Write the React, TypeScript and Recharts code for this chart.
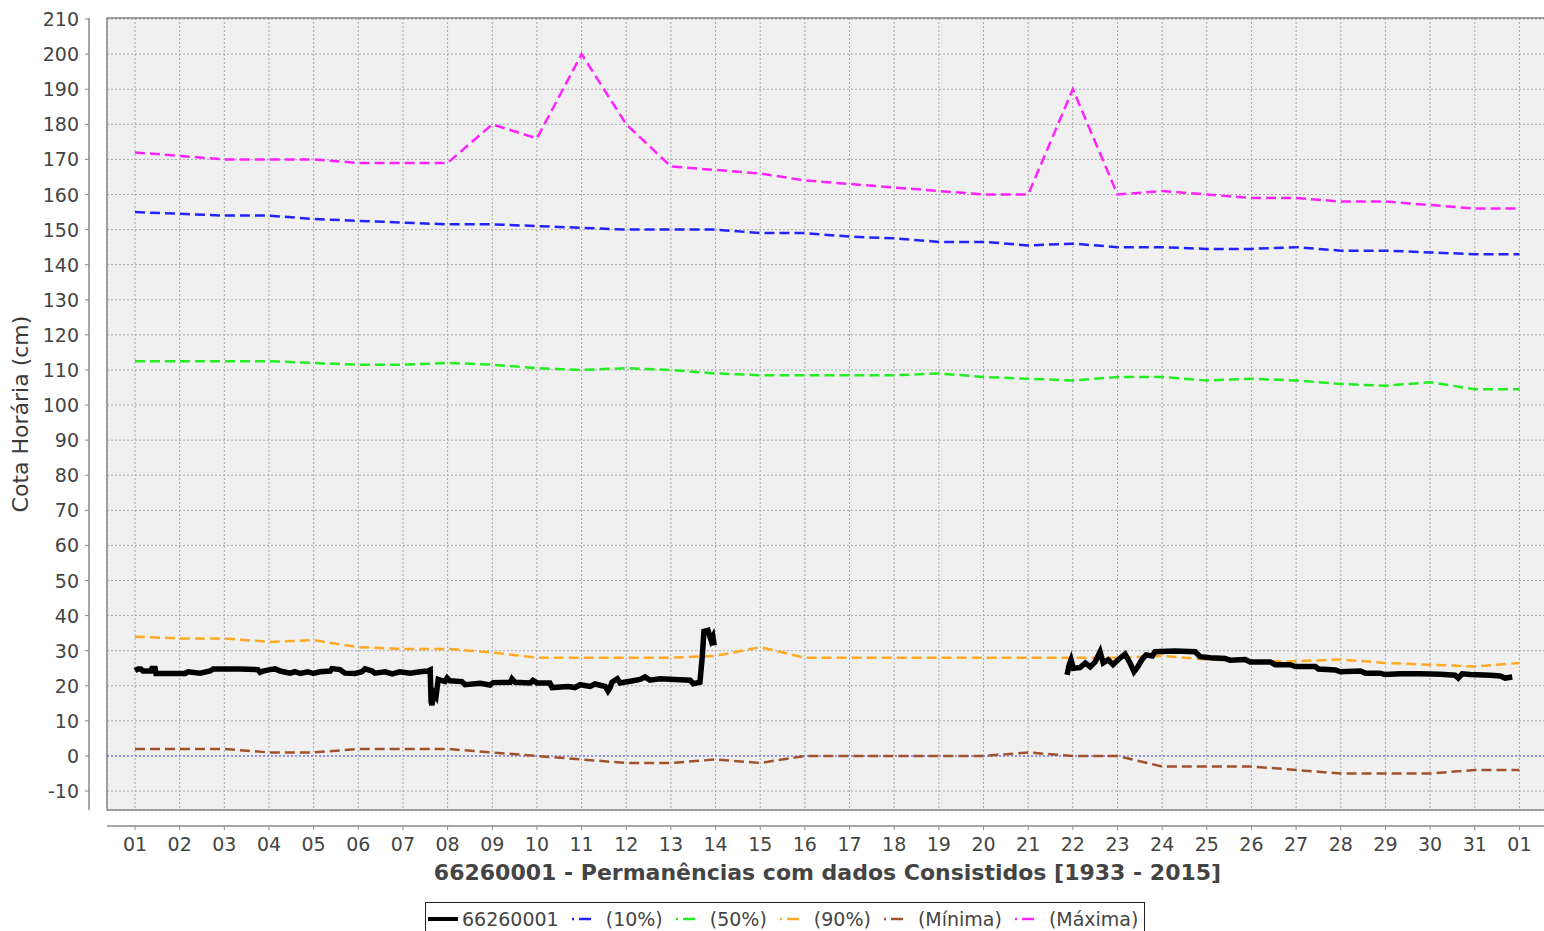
import {
  CartesianGrid,
  Line,
  LineChart,
  ReferenceArea,
  ReferenceLine,
  XAxis,
  YAxis,
} from "recharts";

const dayPositions = [0, 1, 2, 3, 4, 5, 6, 7, 8, 9, 10, 11, 12, 13, 14, 15, 16, 17, 18, 19, 20, 21, 22, 23, 24, 25, 26, 27, 28, 29, 30, 31];
const dayTickLabels = ["01", "02", "03", "04", "05", "06", "07", "08", "09", "10", "11", "12", "13", "14", "15", "16", "17", "18", "19", "20", "21", "22", "23", "24", "25", "26", "27", "28", "29", "30", "31", "01"];
const levelTicks = [-10, 0, 10, 20, 30, 40, 50, 60, 70, 80, 90, 100, 110, 120, 130, 140, 150, 160, 170, 180, 190, 200, 210];

const maxima = [172, 171, 170, 170, 170, 169, 169, 169, 180, 176, 200, 180, 168, 167, 166, 164, 163, 162, 161, 160, 160, 190, 160, 161, 160, 159, 159, 158, 158, 157, 156, 156];
const perc10 = [155, 154.5, 154, 154, 153, 152.5, 152, 151.5, 151.5, 151, 150.5, 150, 150, 150, 149, 149, 148, 147.5, 146.5, 146.5, 145.5, 146, 145, 145, 144.5, 144.5, 145, 144, 144, 143.5, 143, 143];
const perc50 = [112.5, 112.5, 112.5, 112.5, 112, 111.5, 111.5, 112, 111.5, 110.5, 110, 110.5, 110, 109, 108.5, 108.5, 108.5, 108.5, 109, 108, 107.5, 107, 108, 108, 107, 107.5, 107, 106, 105.5, 106.5, 104.5, 104.5];
const perc90 = [34, 33.5, 33.5, 32.5, 33, 31, 30.5, 30.5, 29.5, 28, 28, 28, 28, 28.5, 31, 28, 28, 28, 28, 28, 28, 28, 28, 28.5, 27.5, 27, 27, 27.5, 26.5, 26, 25.5, 26.5];
const minima = [2, 2, 2, 1, 1, 2, 2, 2, 1, 0, -1, -2, -2, -1, -2, 0, 0, 0, 0, 0, 1, 0, 0, -3, -3, -3, -4, -5, -5, -5, -4, -4];

// hourly record of the station, two stretches with a gap between them
const stationDays = [
  0, 0.07, 0.13, 0.18, 0.36, 0.38, 0.45, 0.47, 0.78, 1.12, 1.19, 1.46, 1.68, 1.75, 2.35, 2.75, 2.8, 2.87, 3.02, 3.14,
  3.25, 3.47, 3.58, 3.7, 3.87, 3.99, 4.14, 4.37, 4.41, 4.59, 4.7, 4.93, 5.08, 5.15, 5.31, 5.37, 5.6, 5.76, 5.93, 6.16,
  6.38, 6.56, 6.61, 6.63, 6.65, 6.69, 6.74, 6.79, 6.94, 6.99, 7.05, 7.32, 7.39, 7.73, 7.95, 8.02, 8.4, 8.44, 8.51, 8.85,
  8.91, 9.0, 9.29, 9.34, 9.7, 9.85, 9.97, 10.19, 10.3, 10.53, 10.59, 10.64, 10.68, 10.8, 10.86, 11.09, 11.31, 11.42, 11.53, 11.76,
  12.09, 12.43, 12.5, 12.65, 12.7, 12.74, 12.83, 12.9, 12.94, 12.97,
  17,
  20.87, 20.92, 20.96, 21.01, 21.16, 21.28, 21.39, 21.5, 21.61, 21.68, 21.79, 21.9, 22.02, 22.17, 22.28, 22.37, 22.46, 22.55, 22.64, 22.78,
  22.84, 23.29, 23.74, 23.85, 24.08, 24.41, 24.52, 24.86, 24.97, 25.42, 25.53, 25.87, 25.98, 26.43, 26.5, 26.88, 26.99, 27.44, 27.55, 27.88,
  27.99, 28.33, 28.78, 29.23, 29.56, 29.63, 29.72, 29.9, 30.35, 30.57, 30.68, 30.84,
];
const stationLevels = [
  24.3, 24.8, 24.8, 24.2, 24.2, 24.9, 24.9, 23.5, 23.5, 23.5, 24.0, 23.6, 24.2, 24.8, 24.8, 24.6, 23.8, 24.2, 24.6, 24.8,
  24.2, 23.6, 24.0, 23.5, 24.0, 23.5, 24.0, 24.2, 24.9, 24.6, 23.6, 23.5, 24.0, 24.8, 24.2, 23.6, 24.0, 23.4, 24.0, 23.6,
  24.0, 24.2, 24.5, 15.5, 14.5, 18, 17, 21.8, 21.2, 22.2, 21.4, 21.2, 20.3, 20.7, 20.2, 20.9, 21.0, 22.0, 21.0, 20.8,
  21.5, 20.8, 20.8, 19.5, 19.8, 19.5, 20.3, 19.8, 20.5, 19.8, 18.5, 19.5, 21.0, 22.0, 20.8, 21.3, 21.8, 22.5, 21.6, 22.0,
  21.8, 21.6, 20.6, 21.0, 28, 35.5, 35.8, 33, 34, 31.5,
  null,
  23.1, 26, 27.4, 25, 25.2, 26.5, 25.4, 26.8, 29.7, 26.5, 27.4, 26.0, 27.5, 29.0, 26.5, 24.0, 25.5, 27.5, 28.8, 28.5,
  29.7, 29.9, 29.7, 28.3, 28.0, 27.8, 27.3, 27.5, 26.8, 26.8, 26.0, 26.0, 25.5, 25.5, 24.8, 24.5, 24.0, 24.2, 23.6, 23.6,
  23.2, 23.4, 23.4, 23.3, 23.0, 22.2, 23.4, 23.2, 23.0, 22.8, 22.2, 22.5,
];

const legendNames = ["66260001", "(10%)", "(50%)", "(90%)", "(Mínima)", "(Máxima)"];
const legendColors = ["#000000", "#2222ff", "#22ee22", "#ffaa22", "#a0522d", "#ff22ff"];

const dailyRows = dayPositions.map((day, i) => ({
  day,
  maxima: maxima[i],
  perc10: perc10[i],
  perc50: perc50[i],
  perc90: perc90[i],
  minima: minima[i],
}));

const stationRows = stationDays.map((day, i) => ({ day, level: stationLevels[i] }));

const FONT = "'DejaVu Sans', sans-serif";
const TEXT = "#444444";
const AXIS = "#888888";

function DayTick({ x, y, payload }: any) {
  return (
    <g>
      <line x1={x} x2={x} y1={y + 16} y2={y + 20} stroke={AXIS} />
      <text x={x} y={y + 41} textAnchor="middle" fill={TEXT} fontSize={19}>
        {dayTickLabels[payload.value]}
      </text>
    </g>
  );
}

function LevelTick({ x, y, payload }: any) {
  return (
    <g>
      <line x1={x - 22} x2={x - 18} y1={y} y2={y} stroke={AXIS} />
      <text x={x - 28} y={y + 7} textAnchor="end" fill={TEXT} fontSize={19}>
        {payload.value}
      </text>
    </g>
  );
}

function LevelTitle(props: any) {
  const vb = props?.viewBox ?? { x: 0, y: 18, height: 792 };
  const cx = vb.x + 20;
  const cy = vb.y + vb.height / 2;
  return (
    <text
      x={cx}
      y={cy}
      transform={`rotate(-90 ${cx} ${cy})`}
      textAnchor="middle"
      dominantBaseline="central"
      fill="#3a3a3a"
      fontSize={22}
    >
      Cota Horária (cm)
    </text>
  );
}

function LegendBox() {
  return (
    <div
      style={{
        position: "absolute",
        left: 425,
        top: 902,
        height: 32,
        border: "1px solid #222",
        display: "flex",
        alignItems: "center",
        padding: "0 6px 0 2px",
        fontSize: 19,
        color: TEXT,
        whiteSpace: "nowrap",
        background: "#fff",
      }}
    >
      {legendNames.map((name, i) => (
        <span key={name} style={{ display: "flex", alignItems: "center", marginRight: i === legendNames.length - 1 ? 0 : 12 }}>
          {i === 0 ? (
            <svg width={30} height={10} style={{ marginRight: 4 }}>
              <line x1={0} x2={30} y1={5} y2={5} stroke={legendColors[i]} strokeWidth={4} />
            </svg>
          ) : (
            <svg width={20} height={10} style={{ marginRight: 15 }}>
              <line x1={1} x2={3} y1={5} y2={5} stroke={legendColors[i]} strokeWidth={2.5} />
              <line x1={8} x2={20} y1={5} y2={5} stroke={legendColors[i]} strokeWidth={2.5} />
            </svg>
          )}
          {name}
        </span>
      ))}
    </div>
  );
}

export default function App() {
  return (
    <div
      style={{
        position: "absolute",
        left: 0,
        top: 0,
        width: 1544,
        height: 931,
        overflow: "hidden",
        background: "#ffffff",
        fontFamily: FONT,
      }}
    >
      <LineChart width={1560} height={931} data={dailyRows} margin={{ top: 18, right: 12, bottom: 0, left: 0 }}>
        <CartesianGrid fill="#f0f0f0" stroke="#a8a8a8" strokeDasharray="2 2" />
        <XAxis
          dataKey="day"
          type="number"
          domain={[-0.627, 31.64]}
          ticks={dayPositions}
          interval={0}
          allowDataOverflow
          height={121}
          tickSize={0}
          tickMargin={0}
          tickLine={false}
          tick={<DayTick />}
          axisLine={{ stroke: AXIS, strokeWidth: 1.5, transform: "translate(0 16)" }}
          label={{
            value: "66260001 - Permanências com dados Consistidos [1933 - 2015]",
            position: "insideTop",
            offset: 54,
            fill: TEXT,
            fontSize: 22,
            fontWeight: "bold",
          }}
        />
        <YAxis
          type="number"
          domain={[-15.4, 210.3]}
          ticks={levelTicks}
          interval={0}
          allowDataOverflow
          width={107}
          tickSize={0}
          tickMargin={0}
          tickLine={false}
          tick={<LevelTick />}
          axisLine={{ stroke: AXIS, strokeWidth: 1.5, transform: "translate(-18 0)" }}
          label={<LevelTitle />}
        />
        <ReferenceArea
          x1={-0.627}
          x2={31.64}
          y1={-15.4}
          y2={210.3}
          fill="none"
          fillOpacity={0}
          stroke={AXIS}
          strokeWidth={1.5}
          ifOverflow="visible"
        />
        <ReferenceLine y={0} stroke="#5555ff" strokeDasharray="2 2" strokeWidth={1} />
        <Line type="linear" dataKey="perc10" stroke={legendColors[1]} strokeWidth={2.5} strokeDasharray="10 5" dot={false} isAnimationActive={false} />
        <Line type="linear" dataKey="perc50" stroke={legendColors[2]} strokeWidth={2.5} strokeDasharray="10 5" dot={false} isAnimationActive={false} />
        <Line type="linear" dataKey="perc90" stroke={legendColors[3]} strokeWidth={2.5} strokeDasharray="10 5" dot={false} isAnimationActive={false} />
        <Line type="linear" dataKey="minima" stroke={legendColors[4]} strokeWidth={2.5} strokeDasharray="10 5" dot={false} isAnimationActive={false} />
        <Line type="linear" dataKey="maxima" stroke={legendColors[5]} strokeWidth={2.5} strokeDasharray="10 5" dot={false} isAnimationActive={false} />
        <Line
          data={stationRows}
          type="linear"
          dataKey="level"
          stroke={legendColors[0]}
          strokeWidth={5.5}
          strokeLinejoin="miter"
          dot={false}
          connectNulls={false}
          isAnimationActive={false}
        />
      </LineChart>
      <LegendBox />
    </div>
  );
}
